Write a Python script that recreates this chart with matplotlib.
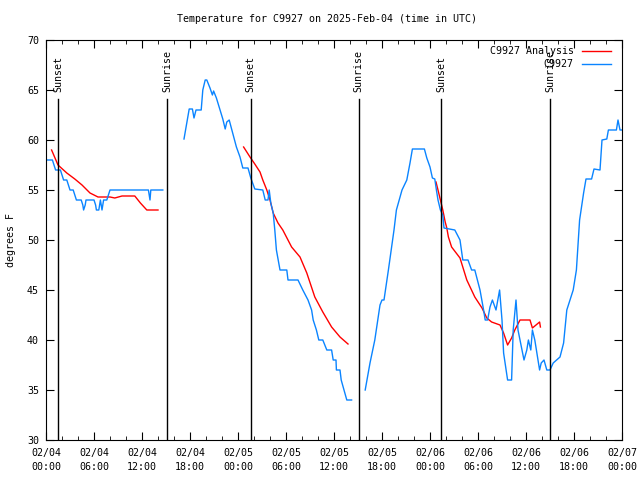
import matplotlib
matplotlib.use("Agg")
import matplotlib.pyplot as plt
import matplotlib.dates as mdates
import numpy as np
import pandas as pd

start = pd.Timestamp("2025-02-04 00:00")

# observed temperatures (hours since start, degrees F); nan = gap
obs_hours = [0.0, 0.8, 1.0, 1.2, 1.8, 2.0, 2.2, 2.6, 2.8, 3.0, 3.4, 3.6, 3.8, 4.4, 4.6, 4.7, 4.9, 5.0,
             6.0, 6.2, 6.3, 6.6, 6.8, 6.9, 7.0, 7.2, 7.6, 7.8, 8.0, 12.8, 12.9, 13.0, 13.1, 14.6,
             15.5,
             17.25, 17.6, 17.9, 18.3, 18.5, 18.75, 19.4, 19.6, 19.9, 20.1, 20.5, 20.8, 20.95, 21.3,
             21.75, 22.1, 22.4, 22.6, 22.9, 23.2, 23.5, 23.8, 24.25, 24.6, 25.25, 25.6, 26.1, 27.1,
             27.4, 27.75, 27.9, 28.1, 28.4, 28.6, 28.8, 29.25, 30.1, 30.25, 31.5, 32.1, 32.75, 33.2,
             33.4, 33.8, 34.1, 34.6, 35.1, 35.7, 35.9, 36.25, 36.3, 36.75, 36.9, 37.25, 37.6, 38.2,
             39.0,
             39.9, 40.5, 41.1, 41.75, 42.0, 42.25, 42.8, 43.2, 43.5, 43.8, 44.5, 45.1, 45.5, 45.8,
             47.3, 47.6, 48.0, 48.3, 48.6, 48.8, 49.0, 49.3, 49.6, 49.75, 51.1, 51.75, 52.1, 52.75,
             53.2, 53.6, 54.25, 54.7, 54.9, 55.2, 55.5, 55.8, 56.25, 56.7, 56.8, 57.0, 57.2, 57.7,
             58.2, 58.4, 58.75, 59.0, 59.5, 59.75, 60.1, 60.3, 60.6, 60.8, 61.1, 61.3, 61.7, 61.9,
             62.25, 62.6, 63.0, 63.4, 64.25, 64.7, 65.1, 65.5, 65.9, 66.3, 66.7, 67.2, 67.5, 68.2,
             68.5, 69.25, 69.5, 70.1, 70.3, 71.3, 71.5, 71.75, 72.0]
obs_temps = [58, 58, 57.5, 57, 57, 56.5, 56, 56, 55.5, 55, 55, 54.5, 54, 54, 53.5, 53, 53.5, 54,
             54, 53.5, 53, 53, 54, 53.5, 53, 54, 54, 54.5, 55, 55, 54.5, 54, 55, 55,
             np.nan,
             60.1, 61.7, 63.1, 63.1, 62.2, 63, 63, 65, 66, 66, 65.2, 64.5, 64.9, 64.2,
             63, 62.1, 61.1, 61.8, 62, 61.1, 60.2, 59.3, 58.3, 57.2, 57.2, 56.2, 55.1, 55,
             54, 54, 55, 53.7, 52.7, 51, 49, 47, 47, 46, 46, 45, 44, 43,
             42, 41, 40, 40, 39, 39, 38, 38, 37, 37, 36, 35, 34, 34,
             np.nan,
             35, 37.7, 40, 43.5, 44, 44, 47, 49.3, 51, 53, 55, 56, 57.7, 59.1,
             59.1, 58.2, 57.3, 56.2, 56.1, 55, 54, 53, 52.5, 51.2, 51, 50, 48, 48,
             47, 47, 45, 43, 42, 42, 43.3, 44, 43, 45, 44, 42, 38.7, 36,
             36, 41, 44, 41, 39, 38, 39, 40, 39, 41, 40, 39, 37, 37.7,
             38, 37, 37, 37.7, 38.3, 39.7, 43, 44, 45, 47, 52, 54.7, 56.1, 56.1,
             57.1, 57, 60, 60.1, 61, 61, 62, 61, 61]

# analysis temperatures
ana_hours = [0.7, 1.5, 2.6, 3.6, 4.5, 5.5, 6.5, 8.0, 8.6, 9.5, 11.1, 11.8, 12.6, 14.0,
             19.0,
             24.7, 25.5, 26.1, 26.75, 27.1, 27.6, 28.0, 28.4, 29.0, 29.6, 30.7, 31.75, 32.6,
             33.6, 34.6, 35.7, 36.75, 37.75,
             43.0,
             48.75, 49.0, 49.3, 49.6, 49.9, 50.1, 50.3, 50.7, 51.75, 52.6, 53.6, 54.5, 55.1,
             55.7, 56.75, 57.2, 57.7, 58.2, 58.6, 59.25, 60.5, 60.8, 61.7, 61.8]
ana_temps = [59, 57.5, 56.7, 56.1, 55.5, 54.7, 54.3, 54.3, 54.2, 54.4, 54.4, 53.7, 53, 53,
             np.nan,
             59.3, 58.3, 57.6, 56.8, 56, 55, 54, 52.7, 51.7, 51, 49.3, 48.3, 46.7,
             44.3, 42.8, 41.3, 40.3, 39.6,
             np.nan,
             55.8, 55, 54, 53, 51.8, 51.2, 50.3, 49.3, 48.2, 46, 44.3, 43.2, 42.2,
             41.8, 41.5, 40.7, 39.5, 40.2, 41, 42, 42, 41.2, 41.8, 41.3]

sunset_hours = [1.54, 25.6, 49.4]
sunrise_hours = [15.17, 39.1, 63.04]


def to_time(hours):
    return start + pd.to_timedelta(hours, unit="h")


plt.rcParams["font.family"] = "DejaVu Sans Mono"
plt.rcParams["font.size"] = 7.2

fig = plt.figure(figsize=(6.4, 4.8), dpi=100)
ax = fig.add_axes([46 / 640, 40 / 480, 576 / 640, 400 / 480])

ax.plot(to_time(ana_hours), ana_temps, color="#ff0000", lw=1.0, label="C9927 Analysis")
ax.plot(to_time(obs_hours), obs_temps, color="#0a84ff", lw=1.0, label="C9927")

for hours, name in [(sunset_hours, "Sunset"), (sunrise_hours, "Sunrise")]:
    for h in hours:
        t = to_time(h)
        ax.plot([t, t], [30, 64.1], color="black", lw=1.0)
        ax.text(t, 64.8, name, rotation=90, ha="center", va="bottom")

ax.set_xlim(to_time(0), to_time(72))
ax.set_ylim(30, 70)
ax.set_yticks(range(30, 71, 5))
ax.xaxis.set_major_locator(mdates.HourLocator(byhour=[0, 6, 12, 18]))
ax.xaxis.set_minor_locator(mdates.HourLocator(byhour=range(0, 24, 2)))
ax.xaxis.set_major_formatter(mdates.DateFormatter("%m/%d\n%H:%M"))
ax.tick_params(which="both", direction="in", top=True, right=True)
ax.tick_params(which="major", length=6, pad=6)
ax.tick_params(axis="y", pad=5)
ax.tick_params(which="minor", length=3)
for lbl in ax.get_xticklabels():
    lbl.set_linespacing(1.45)

ax.set_ylabel("degrees F")
ax.yaxis.set_label_coords(-30 / 576, 0.5)
fig.text(327 / 640, 1 - 19 / 480, "Temperature for C9927 on 2025-Feb-04 (time in UTC)",
         ha="center", va="center")

leg = ax.legend(loc="upper right", bbox_to_anchor=(1 - 5 / 576, 1), frameon=False,
                markerfirst=False, handlelength=2.9, borderaxespad=0.25,
                labelspacing=0.3, handletextpad=0.8)
for txt in leg.get_texts():
    txt.set_ha("right")

fig.savefig("out.png", dpi=100)
